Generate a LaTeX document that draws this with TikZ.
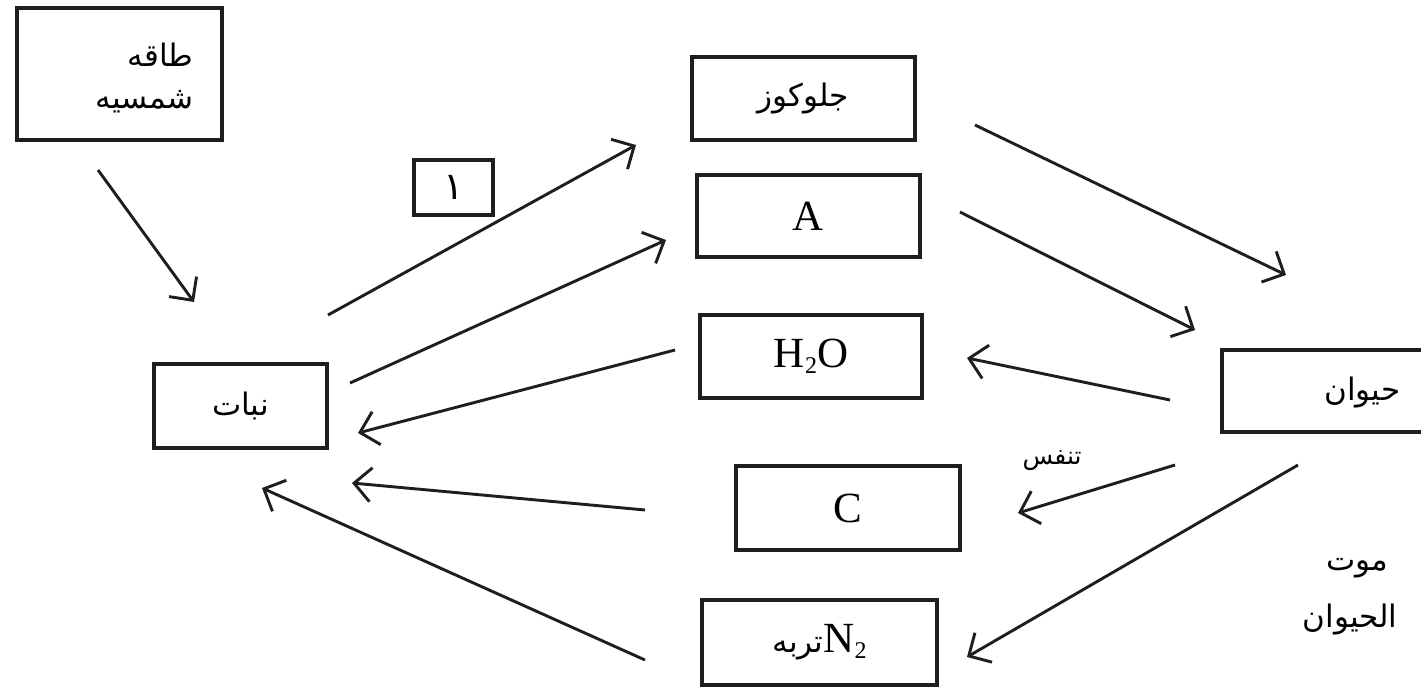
\documentclass[tikz,border=0pt]{standalone}
\usepackage{fontspec}
\setmainfont{Liberation Serif}
\newfontfamily\arabicfont[Script=Arabic]{DejaVu Sans}
\TeXXeTstate=1
\usetikzlibrary{arrows.meta}
\definecolor{ink}{HTML}{1E1E1E}
\tikzset{
  box/.style={draw=ink, line width=3.4pt, minimum width=#1, inner sep=0pt},
  arr/.style={draw=ink, line width=2.9pt, -{Straight Barb[length=17pt,width=34pt,line width=2.9pt]}},
  ar/.style={font=\arabicfont\fontsize{31}{38}\selectfont},
  lat/.style={font=\fontsize{43}{46}\selectfont}
}
\newcommand{\rtl}[1]{\beginR #1\endR}
\begin{document}
\begin{tikzpicture}[x=1pt,y=-1pt]
\useasboundingbox (0,0) rectangle (1421,690);
\fill[white] (0,0) rectangle (1421,690);

% boxes
\node[box=205pt, minimum height=132pt] (sun) at (119.5,74) {};
\node[ar, anchor=east] (sunA) at (197,55) {\rtl{طاقه}};
\node[ar, anchor=east] (sunB) at (197,102) {\rtl{شمسيه}};

\node[box=223pt, minimum height=83pt, ar] (glu) at (803.5,98.5) {\rtl{جلوكوز}};
\node[box=79pt, minimum height=55pt, font=\arabicfont\fontsize{38}{40}\selectfont] (one) at (453.5,187.5) {\rtl{١}};
\node[box=223pt, minimum height=82pt, lat] (A) at (808.5,216) {A};
\node[box=222pt, minimum height=83pt, lat] (h2o) at (811,356.5) {H\raisebox{-6pt}{\fontsize{24}{26}\selectfont 2}O};
\node[box=173pt, minimum height=84pt, ar] (plant) at (240.5,406) {\rtl{نبات}};
\node[box=212pt, minimum height=82pt] (animal) at (1328,391) {};
\node[ar, anchor=east] (animalT) at (1404,393) {\rtl{حيوان}};
\node[box=224pt, minimum height=84pt, lat] (C) at (848,508) {C};
\node[box=235pt, minimum height=85pt] (soil) at (819.5,642.5)
  {{\arabicfont\fontsize{31}{38}\selectfont\rtl{تربه}}\fontsize{43}{46}\selectfont N\raisebox{-6pt}{\fontsize{24}{26}\selectfont 2}};

% connector end points
\coordinate (s1) at (98,170);   \coordinate (s2) at (194,302);
\coordinate (p1) at (328,315);  \coordinate (g1) at (636,145);
\coordinate (p2) at (350,383);  \coordinate (a1) at (666,240);
\coordinate (w1) at (675,350);  \coordinate (p3) at (358,433);
\coordinate (c1) at (645,510);  \coordinate (p4) at (352,483);
\coordinate (n1) at (645,660);  \coordinate (p5) at (262,488);
\coordinate (g2) at (975,125);  \coordinate (an1) at (1286,275);
\coordinate (a2) at (960,212);  \coordinate (an2) at (1195,330);
\coordinate (an3) at (1170,400); \coordinate (w2) at (967,358);
\coordinate (an4) at (1175,465); \coordinate (c2) at (1018,513);
\coordinate (an5) at (1298,465); \coordinate (n2) at (967,657);

\draw[arr] (s1) -- (s2);
\draw[arr] (p1) -- (g1);
\draw[arr] (p2) -- (a1);
\draw[arr] (w1) -- (p3);
\draw[arr] (c1) -- (p4);
\draw[arr] (n1) -- (p5);
\draw[arr] (g2) -- (an1);
\draw[arr] (a2) -- (an2);
\draw[arr] (an3) -- (w2);
\draw[arr] (an4) -- (c2);
\draw[arr] (an5) -- (n2);

% labels
\node[font=\arabicfont\fontsize{25}{30}\selectfont] (resp) at (1052,461) {\rtl{تنفس}};
\node[ar, anchor=east] (deathA) at (1392,568) {\rtl{موت}};
\node[ar, anchor=east] (deathB) at (1401,620) {\rtl{الحيوان}};
\end{tikzpicture}
\end{document}
